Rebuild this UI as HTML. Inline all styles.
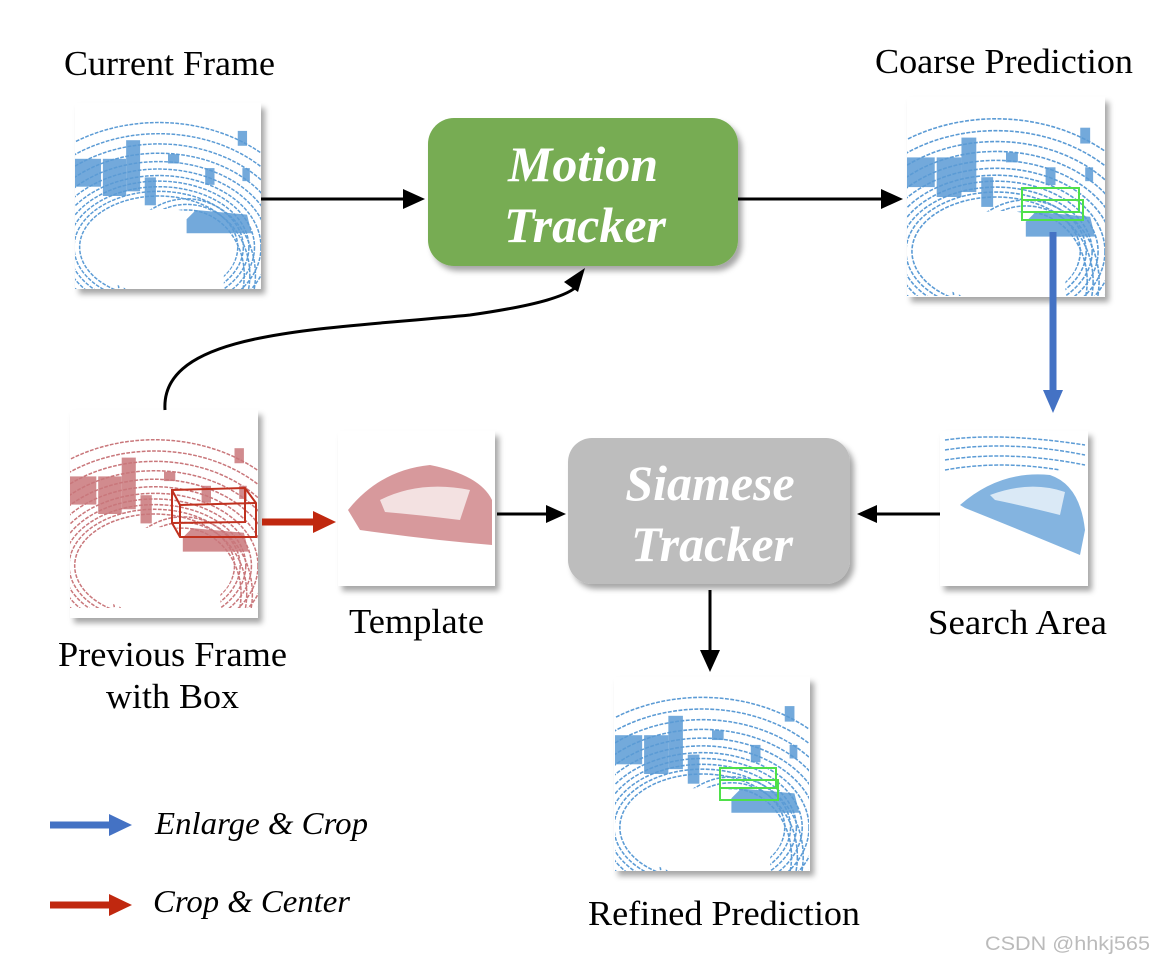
<!DOCTYPE html>
<html><head><meta charset="utf-8"><style>
html,body{margin:0;padding:0;background:#fff;}
svg{display:block;}
text{font-family:"Liberation Serif",serif;}
</style></head><body>
<svg width="1155" height="963" viewBox="0 0 1155 963" xmlns="http://www.w3.org/2000/svg">
<defs>
<filter id="sh" x="-10%" y="-10%" width="130%" height="130%"><feDropShadow dx="4" dy="5" stdDeviation="3" flood-color="#000" flood-opacity="0.35"/></filter>
<clipPath id="c200"><rect x="0" y="0" width="200" height="200"/></clipPath>
<symbol id="scene" viewBox="0 0 200 200">
<g clip-path="url(#c200)" fill="none" stroke="currentColor" stroke-width="1.6" stroke-dasharray="4 1.5">
<ellipse cx="90" cy="155" rx="85" ry="55"/><ellipse cx="90" cy="155" rx="91" ry="60"/><ellipse cx="90" cy="155" rx="97" ry="65"/>
<ellipse cx="90" cy="155" rx="103" ry="71"/><ellipse cx="90" cy="155" rx="110" ry="77"/><ellipse cx="90" cy="155" rx="118" ry="84"/>
<ellipse cx="90" cy="155" rx="126" ry="92"/><ellipse cx="90" cy="155" rx="135" ry="101"/><ellipse cx="90" cy="155" rx="145" ry="111"/>
<ellipse cx="90" cy="155" rx="156" ry="122"/><ellipse cx="90" cy="155" rx="168" ry="134"/>
<ellipse cx="120" cy="185" rx="62" ry="70"/><ellipse cx="120" cy="185" rx="68" ry="76"/><ellipse cx="120" cy="185" rx="74" ry="82"/>
</g>
<rect x="90" y="150" width="70" height="50" fill="#fff"/>
<ellipse cx="95" cy="160" rx="78" ry="46" fill="#fff"/>
<g fill="currentColor" opacity="0.85">
<rect x="30" y="60" width="25" height="40"/><rect x="55" y="40" width="15" height="55"/><rect x="0" y="60" width="28" height="30"/>
<rect x="75" y="80" width="12" height="30"/><rect x="100" y="55" width="12" height="10"/><rect x="140" y="70" width="10" height="18"/>
<rect x="175" y="30" width="10" height="16"/><rect x="180" y="70" width="8" height="14"/>
<path d="M120 125 L130 115 L185 120 L190 140 L120 140Z"/>
</g>
</symbol>
</defs>

<g font-size="35" fill="#000" lengthAdjust="spacingAndGlyphs">
<text x="64" y="75" textLength="211" lengthAdjust="spacingAndGlyphs">Current Frame</text>
<text x="875" y="73" textLength="258" lengthAdjust="spacingAndGlyphs">Coarse Prediction</text>
<text x="58" y="666" textLength="229" lengthAdjust="spacingAndGlyphs">Previous Frame</text>
<text x="106" y="708" textLength="133" lengthAdjust="spacingAndGlyphs">with Box</text>
<text x="349" y="633" textLength="135" lengthAdjust="spacingAndGlyphs">Template</text>
<text x="928" y="634" textLength="179" lengthAdjust="spacingAndGlyphs">Search Area</text>
<text x="588" y="925" textLength="272" lengthAdjust="spacingAndGlyphs">Refined Prediction</text>
</g>

<g filter="url(#sh)">
<rect x="75" y="103" width="186" height="186" fill="#fff"/>
<rect x="907" y="97" width="198" height="200" fill="#fff"/>
<rect x="70" y="410" width="188" height="208" fill="#fff"/>
<rect x="338" y="431" width="157" height="155" fill="#fff"/>
<rect x="940" y="431" width="148" height="155" fill="#fff"/>
<rect x="614" y="677" width="196" height="194" fill="#fff"/>
</g>
<use href="#scene" x="75" y="103" width="186" height="186" color="#5b9bd5"/>
<use href="#scene" x="907" y="97" width="198" height="200" color="#5b9bd5"/>
<use href="#scene" x="70" y="410" width="188" height="208" color="#c9777b"/>
<use href="#scene" x="614" y="677" width="196" height="194" color="#5b9bd5"/>
<path d="M348 510 Q380 470 430 465 Q480 475 492 500 L492 545 Q430 540 360 530 Z" fill="#c9777b" opacity="0.75"/>
<path d="M380 500 Q420 480 470 490 L460 520 Q420 515 385 512Z" fill="#fff" opacity="0.7"/>
<g fill="none" stroke="#5b9bd5" stroke-width="1.5" stroke-dasharray="4 1.5">
<path d="M945 440 Q1000 432 1085 445"/><path d="M945 450 Q1010 440 1085 455"/><path d="M945 460 Q1010 450 1085 465"/>
<path d="M945 470 Q1000 460 1060 470"/>
</g>
<path d="M960 505 Q1000 470 1050 475 Q1080 485 1085 530 L1080 555 Q1020 530 965 508Z" fill="#5b9bd5" opacity="0.75"/>
<path d="M990 495 Q1030 480 1065 492 L1060 515 Q1020 505 995 500Z" fill="#fff" opacity="0.7"/>

<g fill="none" stroke="#c0311f" stroke-width="2">
<path d="M172 490 L245 488 L256 503 L256 537 L180 537 L172 523Z"/><path d="M180 505 L256 503 M180 505 L180 537 M172 490 L180 505 M245 488 L245 522 L172 523"/>
</g>
<g fill="none" stroke="#4fe04a" stroke-width="2">
<rect x="1022" y="188" width="57" height="24"/><path d="M1022 200 L1083 200 L1083 220 L1022 220Z"/>
<rect x="720" y="768" width="56" height="20"/><path d="M720 780 L778 780 L778 800 L720 800Z"/>
</g>

<g filter="url(#sh)">
<rect x="428" y="118" width="310" height="148" rx="26" fill="#77ac52"/>
<rect x="568" y="438" width="282" height="146" rx="24" fill="#bdbdbd"/>
</g>
<g font-size="50" font-weight="bold" font-style="italic" fill="#fff" text-anchor="middle">
<text x="583" y="181">Motion</text>
<text x="585" y="242">Tracker</text>
<text x="710" y="500">Siamese</text>
<text x="712" y="561">Tracker</text>
</g>

<g stroke="#000" stroke-width="3" fill="none">
<line x1="261" y1="199" x2="405" y2="199"/>
<line x1="738" y1="199" x2="883" y2="199"/>
<line x1="497" y1="514" x2="548" y2="514"/>
<line x1="940" y1="514" x2="875" y2="514"/>
<line x1="710" y1="590" x2="710" y2="652"/>
<path d="M165 410 C160 330 320 330 470 315 C540 305 570 295 578 285"/>
</g>
<g fill="#000">
<path d="M425 199 L403 189 L403 209Z"/>
<path d="M903 199 L881 189 L881 209Z"/>
<path d="M566 514 L546 505 L546 523Z"/>
<path d="M857 514 L877 505 L877 523Z"/>
<path d="M710 672 L700 650 L720 650Z"/>
<path d="M585 268 L564 282 L578 292Z"/>
</g>
<line x1="1053" y1="232" x2="1053" y2="392" stroke="#4472c4" stroke-width="7"/>
<path d="M1053 413 L1043 390 L1063 390Z" fill="#4472c4"/>
<line x1="262" y1="522" x2="315" y2="522" stroke="#c0280f" stroke-width="7"/>
<path d="M336 522 L313 511 L313 533Z" fill="#c0280f"/>

<line x1="50" y1="825" x2="110" y2="825" stroke="#4472c4" stroke-width="7"/>
<path d="M132 825 L109 814 L109 836Z" fill="#4472c4"/>
<line x1="50" y1="905" x2="110" y2="905" stroke="#c0280f" stroke-width="7"/>
<path d="M132 905 L109 894 L109 916Z" fill="#c0280f"/>
<g font-size="32" font-style="italic" fill="#000">
<text x="155" y="834" textLength="213" lengthAdjust="spacingAndGlyphs">Enlarge &amp; Crop</text>
<text x="153" y="912" textLength="197" lengthAdjust="spacingAndGlyphs">Crop &amp; Center</text>
</g>
<text x="985" y="950" font-size="19" fill="#bbb" textLength="165" lengthAdjust="spacingAndGlyphs" style="font-family:'Liberation Sans',sans-serif">CSDN @hhkj565</text>
</svg>
</body></html>
